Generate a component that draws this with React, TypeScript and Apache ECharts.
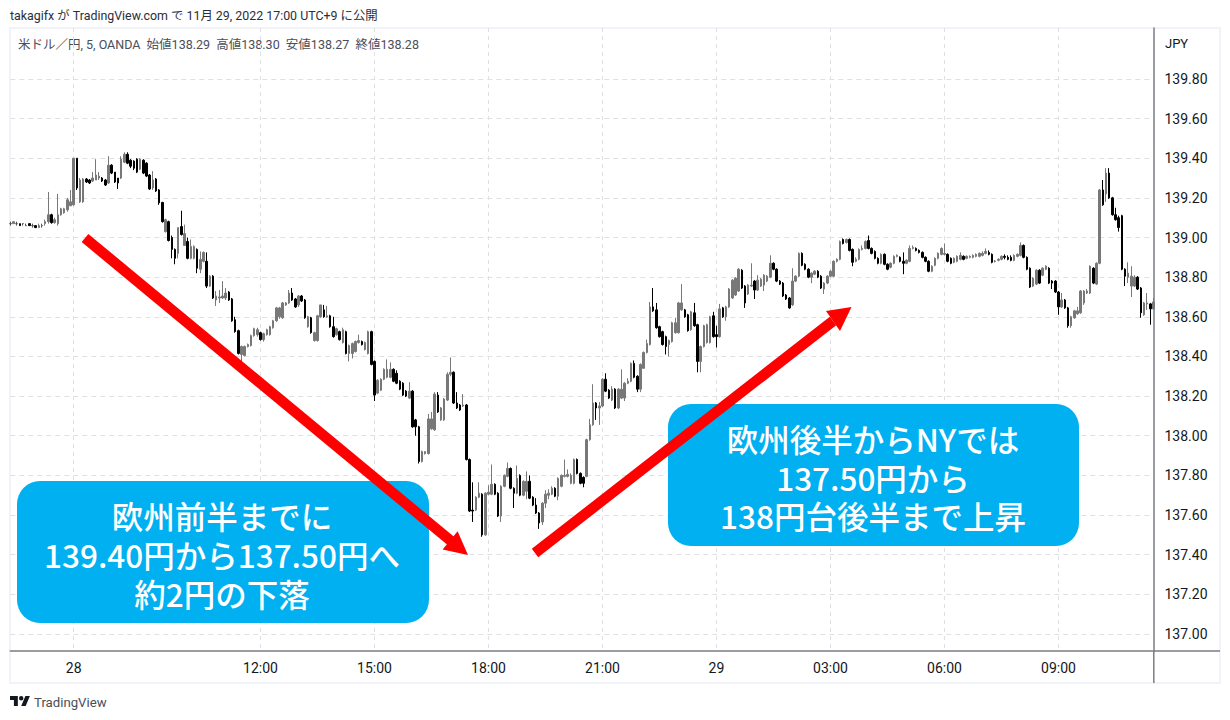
import React, { useEffect, useRef } from "react";
import * as echarts from "echarts";

// Each bar: [open, close, low, high]
const lateFridayBars = [
[139.07,139.07,139.06,139.08],[139.07,139.08,139.07,139.08],[139.07,139.07,139.06,139.08],[139.07,139.06,139.06,139.07],
[139.07,139.07,139.06,139.07],[139.06,139.06,139.06,139.07],[139.07,139.06,139.06,139.07],[139.06,139.06,139.05,139.07],
[139.06,139.05,139.05,139.06],[139.05,139.06,139.05,139.07],[139.06,139.06,139.05,139.07],[139.07,139.08,139.06,139.09],
[139.08,139.115,139.07,139.23],[139.115,139.075,139.07,139.12],[139.075,139.09,139.07,139.10],[139.07,139.115,139.06,139.22],
[139.115,139.145,139.11,139.15],[139.125,139.145,139.12,139.15],[139.14,139.19,139.13,139.20],[139.16,139.18,139.16,139.24],
];
const tokyoBars = [
[139.165,139.40,139.16,139.40],[139.40,139.25,139.24,139.40],[139.18,139.29,139.175,139.30],[139.18,139.295,139.175,139.30],
[139.295,139.28,139.275,139.30],[139.29,139.275,139.27,139.295],[139.285,139.30,139.28,139.33],[139.29,139.315,139.29,139.395],
[139.30,139.31,139.29,139.33],[139.30,139.285,139.28,139.305],[139.29,139.265,139.26,139.295],[139.275,139.365,139.27,139.41],
[139.365,139.325,139.32,139.37],[139.33,139.28,139.275,139.33],[139.30,139.275,139.245,139.30],[139.30,139.395,139.295,139.41],
[139.38,139.42,139.375,139.43],[139.42,139.375,139.37,139.43],[139.39,139.36,139.35,139.395],[139.385,139.35,139.34,139.39],
[139.395,139.33,139.325,139.40],[139.345,139.395,139.34,139.40],[139.39,139.325,139.32,139.395],[139.375,139.31,139.305,139.38],
[139.315,139.245,139.24,139.32],[139.25,139.29,139.24,139.335],[139.295,139.235,139.23,139.30],[139.24,139.175,139.165,139.245],
[139.177,139.08,139.075,139.18],[139.03,139.09,139.025,139.095],[139.08,138.985,138.98,139.085],[139.00,138.94,138.895,139.01],
[138.94,138.895,138.865,138.945],[138.92,139.05,138.895,139.05],[139.055,139.015,139.01,139.135],[138.96,139.02,138.96,139.065],
[138.98,138.895,138.89,139.00],[138.895,138.955,138.89,138.99],[138.895,138.955,138.89,138.96],[138.94,138.845,138.82,138.945],
[138.84,138.89,138.82,138.93],[138.88,138.925,138.875,138.93],[138.88,138.755,138.745,138.925],[138.755,138.805,138.75,138.81],
[138.805,138.695,138.69,138.81],[138.685,138.705,138.655,138.73],[138.695,138.70,138.67,138.735],[138.695,138.705,138.69,138.78],
[138.695,138.72,138.685,138.745],[138.725,138.685,138.68,138.73],[138.69,138.58,138.575,138.695],[138.585,138.525,138.52,138.60],
[138.53,138.415,138.41,138.535],[138.41,138.45,138.365,138.455],[138.405,138.45,138.40,138.455],[138.45,138.46,138.445,138.465],
[138.455,138.505,138.45,138.51],[138.505,138.54,138.50,138.545],[138.51,138.535,138.50,138.545],
];
const middayBars = [
[138.52,138.485,138.48,138.525],[138.485,138.515,138.475,138.52],[138.51,138.535,138.505,138.54],[138.51,138.55,138.505,138.555],
[138.545,138.58,138.54,138.585],[138.58,138.645,138.575,138.65],[138.60,138.645,138.59,138.65],[138.595,138.67,138.59,138.675],
[138.66,138.67,138.655,138.675],[138.67,138.72,138.665,138.735],[138.72,138.685,138.68,138.745],[138.69,138.65,138.645,138.695],
[138.66,138.705,138.65,138.71],[138.705,138.68,138.675,138.71],[138.685,138.595,138.59,138.69],[138.55,138.60,138.545,138.605],
[138.595,138.52,138.515,138.60],[138.48,138.52,138.475,138.525],[138.48,138.605,138.475,138.61],[138.60,138.66,138.595,138.66],
[138.635,138.60,138.595,138.66],[138.60,138.605,138.595,138.655],[138.605,138.55,138.545,138.61],[138.55,138.50,138.495,138.60],
[138.51,138.54,138.505,138.545],[138.525,138.485,138.48,138.53],[138.47,138.535,138.465,138.545],[138.525,138.415,138.41,138.53],
[138.415,138.455,138.375,138.46],[138.415,138.465,138.39,138.47],[138.425,138.475,138.42,138.48],[138.47,138.48,138.465,138.51],
[138.475,138.46,138.455,138.48],[138.435,138.47,138.43,138.475],[138.415,138.525,138.41,138.53],[138.525,138.36,138.355,138.53],
];
const europeBars = [
[138.375,138.205,138.175,138.38],[138.215,138.28,138.21,138.285],[138.23,138.285,138.225,138.29],[138.285,138.335,138.28,138.34],
[138.295,138.335,138.29,138.385],[138.295,138.335,138.29,138.37],[138.335,138.275,138.27,138.34],[138.315,138.265,138.26,138.33],
[138.275,138.235,138.23,138.28],[138.265,138.205,138.20,138.27],[138.225,138.20,138.195,138.23],[138.19,138.225,138.185,138.27],
[138.225,138.045,138.04,138.23],[138.08,138.045,138.00,138.085],[138.045,137.87,137.86,138.05],[137.87,137.92,137.865,137.925],
[137.91,137.92,137.905,137.92],[137.91,138.085,137.905,138.11],[138.035,138.085,138.03,138.12],[138.03,138.21,138.025,138.22],
[138.205,138.12,138.115,138.22],[138.08,138.14,138.075,138.145],[138.08,138.185,138.075,138.19],[138.18,138.31,138.175,138.32],
[138.31,138.32,138.30,138.395],[138.32,138.165,138.16,138.325],[138.165,138.14,138.135,138.22],[138.155,138.13,138.125,138.16],
[138.15,138.155,138.145,138.21],[138.155,137.88,137.875,138.16],[137.88,137.62,137.615,137.885],[137.625,137.62,137.565,137.765],
[137.625,137.69,137.62,137.695],[137.69,137.71,137.685,137.765],[137.705,137.50,137.49,137.71],[137.50,137.71,137.495,137.715],
[137.705,137.715,137.70,137.75],[137.705,137.755,137.70,137.855],[137.755,137.705,137.70,137.76],[137.71,137.595,137.59,137.715],
[137.595,137.745,137.565,137.75],[137.745,137.80,137.74,137.805],[137.795,137.835,137.79,137.865],[137.835,137.735,137.73,137.84],
[137.735,137.71,137.635,137.74],[137.71,137.785,137.705,137.85],[137.80,137.70,137.695,137.805],[137.70,137.77,137.695,137.775],
[137.72,137.77,137.68,137.82],[137.77,137.685,137.68,137.80],[137.69,137.65,137.645,137.695],[137.65,137.61,137.605,137.685],
[137.61,137.56,137.53,137.615],[137.565,137.66,137.55,137.665],[137.66,137.705,137.635,137.725],[137.70,137.71,137.68,137.73],
[137.705,137.735,137.70,137.745],[137.735,137.695,137.69,137.74],[137.695,137.785,137.675,137.79],[137.745,137.80,137.74,137.805],
[137.795,137.80,137.79,137.88],[137.795,137.805,137.79,137.83],[137.76,137.80,137.755,137.81],[137.76,137.88,137.755,137.885],
[137.88,137.81,137.805,137.885],[137.81,137.76,137.755,137.815],[137.79,137.76,137.74,137.795],[137.795,137.98,137.79,137.985],
];
const newYorkBars = [
[137.98,138.055,137.975,138.085],[138.055,138.165,138.05,138.26],[138.165,138.14,138.08,138.17],[138.14,138.15,138.055,138.17],
[138.15,138.285,138.145,138.29],[138.285,138.225,138.22,138.315],[138.23,138.19,138.185,138.235],[138.18,138.235,138.175,138.25],
[138.235,138.14,138.135,138.24],[138.14,138.235,138.135,138.24],[138.19,138.235,138.185,138.335],[138.19,138.265,138.175,138.27],
[138.265,138.275,138.26,138.29],[138.275,138.365,138.27,138.37],[138.365,138.295,138.29,138.38],[138.30,138.235,138.22,138.305],
[138.235,138.36,138.22,138.365],[138.34,138.42,138.34,138.425],[138.42,138.465,138.415,138.485],[138.46,138.65,138.455,138.675],
[138.65,138.63,138.625,138.745],[138.635,138.545,138.54,138.67],[138.55,138.50,138.495,138.555],[138.525,138.46,138.455,138.53],
[138.50,138.45,138.41,138.505],[138.46,138.48,138.40,138.485],[138.475,138.57,138.47,138.575],[138.52,138.57,138.515,138.595],
[138.52,138.67,138.515,138.675],[138.635,138.67,138.63,138.765],[138.635,138.60,138.595,138.64],[138.61,138.53,138.525,138.615],
[138.535,138.625,138.53,138.63],[138.62,138.555,138.55,138.67],[138.56,138.375,138.32,138.565],[138.375,138.45,138.32,138.455],
[138.45,138.555,138.445,138.56],[138.47,138.56,138.465,138.565],[138.47,138.60,138.465,138.605],[138.605,138.50,138.495,138.625],
[138.51,138.50,138.445,138.555],[138.50,138.64,138.495,138.665],[138.645,138.60,138.595,138.65],[138.60,138.65,138.58,138.655],
[138.65,138.74,138.645,138.745],[138.695,138.785,138.69,138.79],[138.71,138.795,138.705,138.80],[138.73,138.84,138.725,138.845],
[138.835,138.745,138.74,138.84],[138.755,138.67,138.645,138.76],[138.715,138.76,138.71,138.765],[138.755,138.76,138.75,138.87],
[138.78,138.735,138.69,138.785],[138.735,138.785,138.73,138.81],[138.755,138.79,138.75,138.795],[138.76,138.81,138.73,138.815],
[138.78,138.805,138.775,138.81],[138.80,138.87,138.795,138.91],[138.87,138.84,138.835,138.875],[138.84,138.78,138.775,138.845],
[138.78,138.765,138.76,138.785],[138.77,138.705,138.70,138.775],[138.71,138.69,138.685,138.715],[138.695,138.645,138.64,138.70],
[138.66,138.78,138.655,138.845],[138.78,138.805,138.775,138.81],[138.805,138.92,138.80,138.925],[138.92,138.86,138.855,138.925],
[138.865,138.84,138.835,138.87],[138.84,138.80,138.795,138.845],[138.80,138.82,138.77,138.825],[138.815,138.83,138.81,138.835],
[138.83,138.80,138.795,138.835],[138.805,138.745,138.74,138.81],[138.74,138.77,138.715,138.775],[138.77,138.805,138.765,138.81],
[138.805,138.83,138.80,138.835],[138.805,138.88,138.80,138.885],[138.88,138.89,138.875,138.895],[138.89,138.98,138.885,138.985],
[138.99,138.97,138.965,138.995],[138.975,138.99,138.97,138.995],[138.99,138.935,138.93,138.995],[138.94,138.875,138.855,138.945],
[138.88,138.89,138.875,138.90],[138.89,138.94,138.885,138.945],[138.94,138.945,138.935,138.96],[138.945,138.98,138.94,138.985],
[138.985,138.945,138.94,139.01],[138.945,138.92,138.915,138.95],[138.93,138.895,138.89,138.935],[138.895,138.87,138.865,138.90],
[138.87,138.915,138.865,138.92],[138.915,138.865,138.86,138.92],[138.865,138.84,138.835,138.87],[138.85,138.87,138.845,138.875],
[138.87,138.905,138.865,138.91],[138.905,138.91,138.90,138.915],[138.90,138.88,138.875,138.905],[138.88,138.87,138.815,138.925],
[138.87,138.885,138.865,138.89],[138.88,138.945,138.875,138.96],[138.945,138.95,138.94,138.96],[138.945,138.935,138.93,138.95],
[138.935,138.925,138.92,138.94],[138.925,138.90,138.895,138.93],[138.90,138.88,138.875,138.905],[138.88,138.83,138.825,138.885],
];
const morningBars = [
[138.83,138.855,138.825,138.86],[138.86,138.895,138.855,138.90],[138.895,138.92,138.89,138.925],[138.915,138.945,138.91,138.95],
[138.915,138.92,138.91,138.97],[138.915,138.88,138.875,138.92],[138.895,138.87,138.865,138.90],[138.875,138.895,138.87,138.90],
[138.88,138.905,138.875,138.91],[138.89,138.91,138.885,138.925],[138.905,138.89,138.885,138.91],[138.895,138.905,138.89,138.91],
[138.90,138.905,138.895,138.91],[138.90,138.91,138.895,138.915],[138.905,138.915,138.90,138.92],[138.905,138.92,138.90,138.925],
[138.91,138.92,138.905,138.93],[138.92,138.93,138.915,138.945],[138.925,138.915,138.91,138.935],[138.915,138.875,138.87,138.92],
[138.88,138.88,138.875,138.885],[138.885,138.89,138.88,138.895],[138.89,138.905,138.885,138.91],[138.905,138.90,138.89,138.915],
[138.90,138.89,138.885,138.91],[138.90,138.885,138.88,138.91],[138.885,138.91,138.88,138.915],[138.905,138.915,138.90,138.92],
[138.91,138.96,138.905,138.975],[138.96,138.90,138.895,138.965],[138.90,138.84,138.835,138.905],[138.845,138.75,138.745,138.85],
[138.755,138.795,138.75,138.80],[138.765,138.835,138.76,138.84],[138.835,138.77,138.765,138.84],[138.81,138.845,138.805,138.85],
[138.84,138.855,138.835,138.86],[138.845,138.77,138.765,138.85],[138.78,138.77,138.74,138.785],[138.78,138.725,138.72,138.785],
[138.725,138.65,138.61,138.73],[138.65,138.685,138.645,138.72],[138.685,138.645,138.64,138.69],[138.645,138.555,138.545,138.65],
[138.555,138.60,138.545,138.605],[138.595,138.63,138.59,138.635],[138.615,138.63,138.61,138.65],[138.62,138.73,138.615,138.735],
[138.67,138.73,138.66,138.735],[138.72,138.73,138.715,138.74],[138.72,138.855,138.715,138.86],[138.845,138.77,138.765,138.85],
[138.765,138.87,138.76,138.875],[138.87,139.24,138.865,139.245],[139.24,139.165,139.16,139.29],[139.22,139.325,139.18,139.35],
[139.325,139.20,139.195,139.35],[139.20,139.115,139.11,139.205],[139.115,139.09,139.085,139.15],[139.10,139.05,139.03,139.11],
[139.11,138.84,138.835,139.115],[138.84,138.805,138.755,138.845],[138.80,138.82,138.77,138.875],[138.755,138.805,138.70,138.855],
[138.755,138.80,138.75,138.81],[138.80,138.74,138.735,138.805],[138.745,138.62,138.595,138.75],[138.61,138.67,138.605,138.675],
[138.665,138.67,138.635,138.72],[138.665,138.64,138.56,138.67],[138.64,138.675,138.635,138.695],
];

const bars = [...lateFridayBars, ...tokyoBars, ...middayBars, ...europeBars, ...newYorkBars, ...morningBars];
const categories = bars.map((_, i) => String(i));

const timeTickIndexes = [20, 79, 115, 151, 187, 223, 259, 295, 331];
const timeTickLabels = ["28", "12:00", "15:00", "18:00", "21:00", "29", "03:00", "06:00", "09:00"];
const priceTicks = [137.0, 137.2, 137.4, 137.6, 137.8, 138.0, 138.2, 138.4, 138.6, 138.8, 139.0, 139.2, 139.4, 139.6, 139.8];

const publishedLine = "takagifx が TradingView.com で 11月 29, 2022 17:00 UTC+9 に公開";
const legendLine = "米ドル／円, 5, OANDA  始値138.29  高値138.30  安値138.27  終値138.28";
const leftNote = ["欧州前半までに", "139.40円から137.50円へ", "約2円の下落"];
const rightNote = ["欧州後半からNYでは", "137.50円から", "138円台後半まで上昇"];

const LOGO = "M14 22H7V11H0V4h14v18zM28 22h-8l7.5-18h8L28 22zM24 8a4 4 0 1 1-8 0a4 4 0 1 1 8 0z";
const UI_FONT = "Roboto, 'Noto Sans CJK JP', sans-serif";
const NOTE_FONT = "'Noto Sans CJK JP', sans-serif";
const AXIS = "#7b7d83";
const FRAME = "#eef0f6";

function noteText(lines: string[], cx: number, cy: number, lineHeight: number) {
  return {
    type: "text",
    x: cx,
    y: cy,
    z: 12,
    style: {
      text: lines.join("\n"),
      fill: "#ffffff",
      font: `500 31.5px ${NOTE_FONT}`,
      lineHeight,
      textAlign: "center",
      textVerticalAlign: "middle",
    },
  };
}

export default function App() {
  const ref = useRef<HTMLDivElement>(null);

  useEffect(() => {
    document.body.style.margin = "0";
    echarts.graphic.registerShape("tvlogo", echarts.graphic.extendPath(LOGO, {}));
    const chart = echarts.init(ref.current!, null, { renderer: "svg" });
    chart.setOption({
      animation: false,
      backgroundColor: "#ffffff",
      grid: { left: 10.3, right: 76.5, top: 28, height: 623 },
      xAxis: {
        type: "category",
        data: categories,
        boundaryGap: false,
        axisLine: { show: true, onZero: false, lineStyle: { color: AXIS, width: 1.5 } },
        axisTick: { show: false },
        axisLabel: {
          interval: (i: number) => timeTickIndexes.includes(i),
          formatter: (_: string, i: number) => timeTickLabels[timeTickIndexes.indexOf(i)] ?? "",
          color: "#131722",
          fontFamily: "Roboto",
          fontSize: 14,
          margin: 10,
        },
        splitLine: {
          show: true,
          interval: (i: number) => timeTickIndexes.includes(i),
          lineStyle: { color: "#dfe0e3", type: [4, 4], width: 1 },
        },
      },
      yAxis: {
        type: "value",
        position: "right",
        min: 136.914,
        max: 140.057,
        axisLine: { show: true, onZero: false, lineStyle: { color: AXIS, width: 1.5 } },
        axisTick: { show: false, customValues: priceTicks },
        axisLabel: {
          customValues: priceTicks,
          formatter: (v: number) => v.toFixed(2),
          color: "#131722",
          fontFamily: "Roboto",
          fontSize: 14,
          margin: 11,
        },
        splitLine: { show: true, lineStyle: { color: "#dfe0e3", type: [5, 4], width: 1 } },
      },
      series: [
        {
          type: "candlestick",
          data: bars,
          barWidth: 2.1,
          clip: false,
          itemStyle: {
            color: "#787878",
            color0: "#000000",
            borderColor: "#787878",
            borderColor0: "#000000",
            borderColorDoji: "#555555",
            borderWidth: 1,
          },
        },
      ],
      graphic: [
        // Frame and axis extensions
        { type: "rect", shape: { x: 10, y: 28, width: 1210, height: 655 }, style: { fill: "none", stroke: FRAME, lineWidth: 1.5 }, silent: true, z: -1 },
        { type: "line", shape: { x1: 1153.8, y1: 651, x2: 1220, y2: 651 }, style: { stroke: AXIS, lineWidth: 1.5 } },
        { type: "line", shape: { x1: 1153.8, y1: 651, x2: 1153.8, y2: 683 }, style: { stroke: AXIS, lineWidth: 1.5 } },
        // Header
        { type: "text", x: 10, y: 15, style: { text: publishedLine, fill: "#2a2e39", font: `12.4px ${UI_FONT}`, textVerticalAlign: "middle" } },
        { type: "text", x: 18, y: 44, style: { text: legendLine, fill: "#4a4e59", font: `12.5px ${UI_FONT}`, textVerticalAlign: "middle" } },
        { type: "text", x: 1165, y: 43, style: { text: "JPY", fill: "#131722", font: "13px Roboto", textVerticalAlign: "middle" } },
        // Notes
        { type: "rect", z: 9, shape: { x: 17, y: 481, width: 412, height: 142, r: 23 }, style: { fill: "#00b0f0" } },
        { type: "rect", z: 9, shape: { x: 668, y: 404, width: 411, height: 142, r: 23 }, style: { fill: "#00b0f0" } },
        // Red arrows
        { type: "line", shape: { x1: 85, y1: 238, x2: 451, y2: 541 }, style: { stroke: "#ff0000", lineWidth: 10.5 }, z: 10 },
        { type: "polygon", shape: { points: [[468, 555], [457.6, 531.2], [442.6, 549.6]] }, style: { fill: "#ff0000" }, z: 10 },
        { type: "line", shape: { x1: 535, y1: 553, x2: 833, y2: 321 }, style: { stroke: "#ff0000", lineWidth: 10.5 }, z: 10 },
        { type: "polygon", shape: { points: [[851.5, 307], [826, 311], [840, 331]] }, style: { fill: "#ff0000" }, z: 10 },
        noteText(leftNote, 222, 554, 39),
        noteText(rightNote, 873, 476.5, 38.5),
        // Footer brand
        { type: "tvlogo", x: 10, y: 693.8, scaleX: 0.56, scaleY: 0.56, style: { fill: "#131722" } },
        { type: "text", x: 34, y: 702, style: { text: "TradingView", fill: "#4a4e59", font: "13.2px Roboto", textVerticalAlign: "middle" } },
      ],
    });
    return () => chart.dispose();
  }, []);

  return <div ref={ref} style={{ width: 1230, height: 720 }} />;
}
